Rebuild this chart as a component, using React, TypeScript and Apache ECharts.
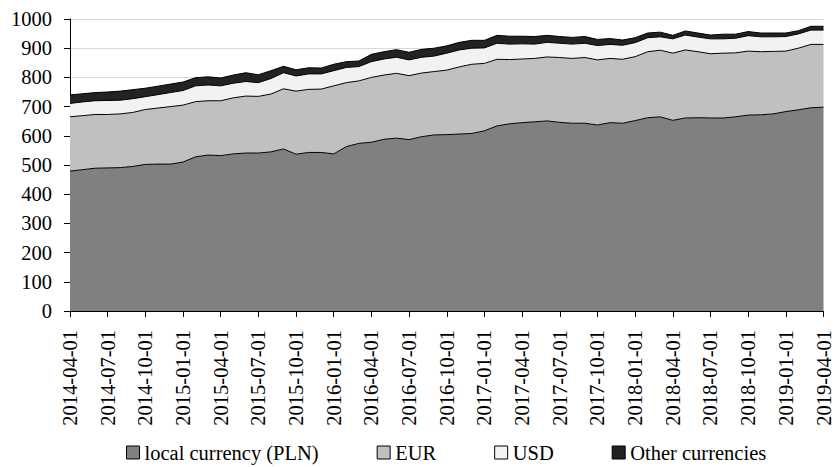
import React, { useEffect, useRef } from "react";
import * as echarts from "echarts";

const categories: string[] = [
  "2014-04-01","2014-05-01","2014-06-01","2014-07-01","2014-08-01","2014-09-01","2014-10-01","2014-11-01","2014-12-01",
  "2015-01-01","2015-02-01","2015-03-01","2015-04-01","2015-05-01","2015-06-01","2015-07-01","2015-08-01","2015-09-01",
  "2015-10-01","2015-11-01","2015-12-01","2016-01-01","2016-02-01","2016-03-01","2016-04-01","2016-05-01","2016-06-01",
  "2016-07-01","2016-08-01","2016-09-01","2016-10-01","2016-11-01","2016-12-01","2017-01-01","2017-02-01","2017-03-01",
  "2017-04-01","2017-05-01","2017-06-01","2017-07-01","2017-08-01","2017-09-01","2017-10-01","2017-11-01","2017-12-01",
  "2018-01-01","2018-02-01","2018-03-01","2018-04-01","2018-05-01","2018-06-01","2018-07-01","2018-08-01","2018-09-01",
  "2018-10-01","2018-11-01","2018-12-01","2019-01-01","2019-02-01","2019-03-01","2019-04-01",
];

const pln: number[] = [
  479,484,489,490,491,495,502,503,503,510,528,534,532,538,541,541,545,555,537,543,543,538,563,574,578,588,592,587,597,603,
  604,606,608,617,634,641,645,648,651,646,643,643,637,645,643,652,662,665,653,661,662,661,661,665,671,672,675,683,689,696,698,
];

const eur: number[] = [
  186,185,184,183,184,185,188,192,197,195,189,186,188,192,195,194,198,206,216,216,217,233,219,214,222,220,222,219,218,217,
  221,230,237,231,228,220,218,217,219,222,222,225,223,220,219,219,226,228,230,233,226,220,222,219,219,216,214,207,211,217,215,
];

const usd: number[] = [
  46,47,47,48,47,47,44,46,48,50,54,54,51,50,50,47,53,55,52,53,52,52,52,49,54,55,55,54,54,53,
  58,58,55,53,55,53,52,49,50,49,49,49,49,48,48,48,48,46,49,51,50,51,49,50,53,51,50,50,49,49,49,
];

const other: number[] = [
  29,28,28,29,31,31,29,29,29,29,28,28,27,28,30,27,27,22,21,21,20,22,20,19,25,25,26,26,27,27,
  25,26,27,26,27,27,26,26,24,23,23,23,21,20,18,17,16,16,12,14,14,13,16,14,14,13,13,12,11,13,13,
];

const seriesNames: string[] = ["local currency (PLN)", "EUR", "USD", "Other currencies"];
const seriesColors: string[] = ["#808080", "#c0c0c0", "#f2f2f2", "#222222"];
const seriesData: number[][] = [pln, eur, usd, other];

const FONT = "'Liberation Serif', 'Times New Roman', serif";

export default function App() {
  const ref = useRef<HTMLDivElement>(null);
  useEffect(() => {
    if (!ref.current) return;
    const chart = echarts.init(ref.current, undefined, { renderer: "svg" });
    chart.setOption({
      animation: false,
      grid: { left: 70, right: 8, top: 19, bottom: 156 },
      legend: {
        data: seriesNames,
        left: 121,
        top: 437,
        icon: "rect",
        itemWidth: 13,
        itemHeight: 13,
        itemGap: 58,
        itemStyle: { borderColor: "#000", borderWidth: 1 },
        textStyle: { fontFamily: FONT, fontSize: 20.5, color: "#000" },
      },
      xAxis: {
        type: "category",
        data: categories,
        boundaryGap: false,
        axisLine: { show: true, lineStyle: { color: "#000", width: 1 } },
        axisTick: { show: true, interval: 2, length: 6, lineStyle: { color: "#000" } },
        axisLabel: {
          interval: 2,
          rotate: 90,
          margin: 19,
          fontFamily: FONT,
          fontSize: 20.5,
          color: "#000",
        },
        splitLine: { show: false },
      },
      yAxis: {
        type: "value",
        min: 0,
        max: 1000,
        interval: 100,
        axisLine: { show: true, lineStyle: { color: "#000", width: 1 } },
        axisTick: { show: true, length: 6, lineStyle: { color: "#000" } },
        axisLabel: {
          margin: 18,
          fontFamily: FONT,
          fontSize: 20.5,
          color: "#000",
          formatter: (v: number) => String(v),
        },
        splitLine: { show: true, lineStyle: { color: "#d9d9d9", width: 1 } },
      },
      series: seriesNames.map((name, k) => ({
        name,
        type: "line",
        stack: "total",
        data: seriesData[k],
        symbol: "none",
        showSymbol: false,
        itemStyle: { color: seriesColors[k] },
        lineStyle: { color: "#000", width: 1 },
        areaStyle: { color: seriesColors[k], opacity: 1 },
        z: 2,
      })),
    });
    return () => chart.dispose();
  }, []);
  return (
    <div
      ref={ref}
      style={{ position: "fixed", left: 0, top: 0, width: 834, height: 467, background: "#fff" }}
    />
  );
}
